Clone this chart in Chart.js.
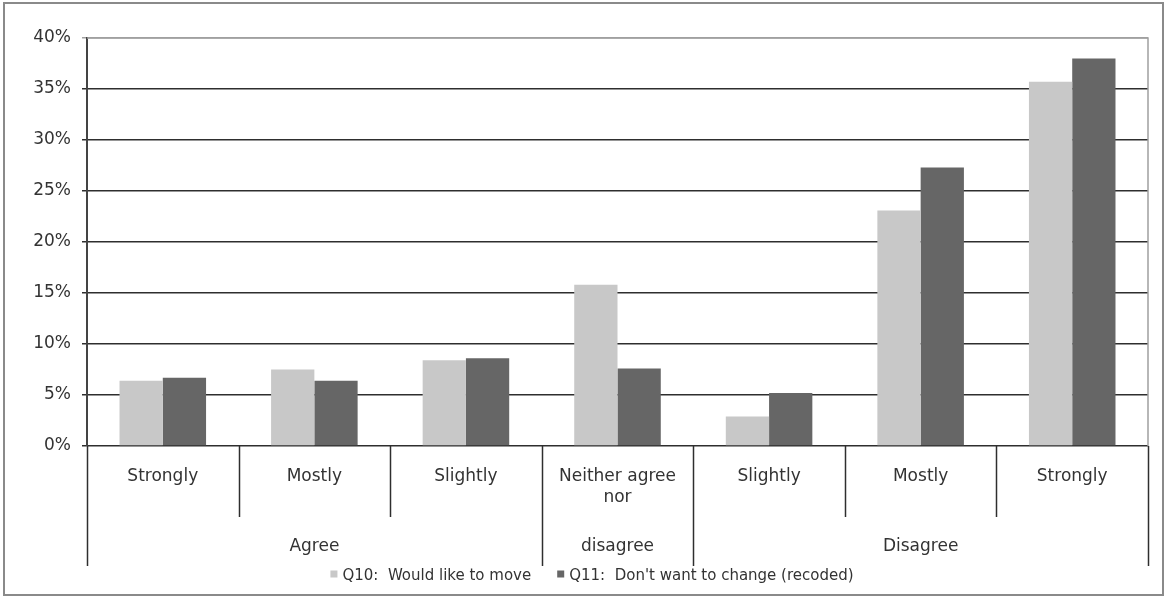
<!DOCTYPE html>
<html>
<head>
<meta charset="utf-8">
<script src="https://cdn.jsdelivr.net/npm/chart.js@4/dist/chart.umd.min.js"></script>
<style>
  html, body { margin: 0; padding: 0; background: #fff; }
  #c { display: block; }
</style>
</head>
<body>
<canvas id="c" width="1167" height="597"></canvas>
<script>
// Response categories (inner level) and the outer groups they belong to
const categories = ['Strongly', 'Mostly', 'Slightly', ['Neither agree', 'nor'], 'Slightly', 'Mostly', 'Strongly'];
const groupLabels = ['Agree', 'disagree', 'Disagree'];
const groupSpans = [3, 1, 3];

// Series (percent of respondents)
const seriesNames = ['Q10:  Would like to move', "Q11:  Don't want to change (recoded)"];
const q10Values = [6.4, 7.5, 8.4, 15.8, 2.9, 23.1, 35.7];
const q11Values = [6.7, 6.4, 8.6, 7.6, 5.2, 27.3, 38.0];

// Value axis
const yMin = 0, yMax = 40, yStep = 5;

const FONT = 'Verdana, "DejaVu Sans", sans-serif';
const TEXT = '#333333';
const LINE = '#2e2e2e';

// Two-level category axis, frame and legend drawn after the chart
const multiLevelAxis = {
  id: 'multiLevelAxis',
  afterDraw(chart) {
    const ctx = chart.ctx;
    const xs = chart.scales.x;
    const area = chart.chartArea;
    const n = categories.length;
    const w = (xs.right - xs.left) / n;
    const base = area.bottom;
    const innerBottom = base + 71;
    const outerBottom = base + 120;

    ctx.save();
    ctx.lineWidth = 1.5;
    ctx.strokeStyle = LINE;

    // group boundaries (indices where a group starts / ends)
    const groupEdges = [0];
    groupSpans.forEach(s => groupEdges.push(groupEdges[groupEdges.length - 1] + s));

    for (let i = 0; i <= n; i++) {
      const x = Math.round(xs.left + i * w) + 0.5;
      const isGroupEdge = groupEdges.includes(i);
      ctx.beginPath();
      ctx.moveTo(x, base);
      ctx.lineTo(x, isGroupEdge ? outerBottom : innerBottom);
      ctx.stroke();
    }

    // inner labels
    ctx.fillStyle = TEXT;
    ctx.font = '17px ' + FONT;
    ctx.textAlign = 'center';
    ctx.textBaseline = 'middle';
    categories.forEach((lab, i) => {
      const cx = xs.getPixelForValue(i);
      const lines = Array.isArray(lab) ? lab : [lab];
      lines.forEach((t, k) => ctx.fillText(t, cx, base + 31 + k * 21));
    });

    // outer labels
    groupLabels.forEach((lab, g) => {
      const x0 = xs.left + groupEdges[g] * w;
      const x1 = xs.left + groupEdges[g + 1] * w;
      ctx.fillText(lab, (x0 + x1) / 2, base + 101);
    });

    // plot-area frame: top and right edges
    ctx.strokeStyle = '#a0a0a0';
    ctx.lineWidth = 1.5;
    ctx.beginPath();
    ctx.moveTo(area.left, area.top);
    ctx.lineTo(area.right, area.top);
    ctx.lineTo(area.right, area.bottom);
    ctx.stroke();

    // legend
    ctx.font = '15px ' + FONT;
    ctx.textAlign = 'left';
    const box = 7, gapBox = 5, gapItem = 26;
    const items = chart.data.datasets.map(ds => ({
      label: ds.label, color: ds.backgroundColor, w: ctx.measureText(ds.label).width
    }));
    const total = items.reduce((s, it) => s + box + gapBox + it.w, 0) + gapItem * (items.length - 1);
    let lx = 592 - total / 2;
    const ly = base + 130;
    items.forEach(it => {
      ctx.fillStyle = it.color;
      ctx.fillRect(lx, ly - box / 2 - 2, box, box);
      lx += box + gapBox;
      ctx.fillStyle = TEXT;
      ctx.fillText(it.label, lx, ly);
      lx += it.w + gapItem;
    });

    // outer frame
    ctx.strokeStyle = '#8a8a8a';
    ctx.lineWidth = 2;
    ctx.strokeRect(4, 3, chart.width - 8, chart.height - 5);
    ctx.restore();
  }
};

new Chart(document.getElementById('c'), {
  type: 'bar',
  data: {
    labels: categories,
    datasets: [
      { label: seriesNames[0], data: q10Values, backgroundColor: '#c8c8c8', borderWidth: 0 },
      { label: seriesNames[1], data: q11Values, backgroundColor: '#666666', borderWidth: 0 }
    ]
  },
  options: {
    responsive: false,
    animation: false,
    devicePixelRatio: 1,
    layout: { padding: { top: 38, right: 19, bottom: 0, left: 0 } },
    datasets: { bar: { categoryPercentage: 0.571, barPercentage: 1.0 } },
    plugins: { legend: { display: false }, tooltip: { enabled: false } },
    scales: {
      x: {
        ticks: { display: false },
        grid: { display: false, drawTicks: false },
        border: { display: false },
        afterFit(s) { s.height = 151; }
      },
      y: {
        min: yMin,
        max: yMax,
        ticks: {
          stepSize: yStep,
          callback: v => v + '%',
          font: { family: FONT, size: 17 },
          color: TEXT,
          padding: 11
        },
        grid: {
          color: c => (c.tick && c.tick.value === yMax) ? '#a0a0a0' : LINE,
          lineWidth: 1.5,
          tickLength: 5,
          drawTicks: true
        },
        border: { color: '#444444', width: 2 },
        afterFit(s) { s.width = 87; }
      }
    }
  },
  plugins: [multiLevelAxis]
});
</script>
</body>
</html>
